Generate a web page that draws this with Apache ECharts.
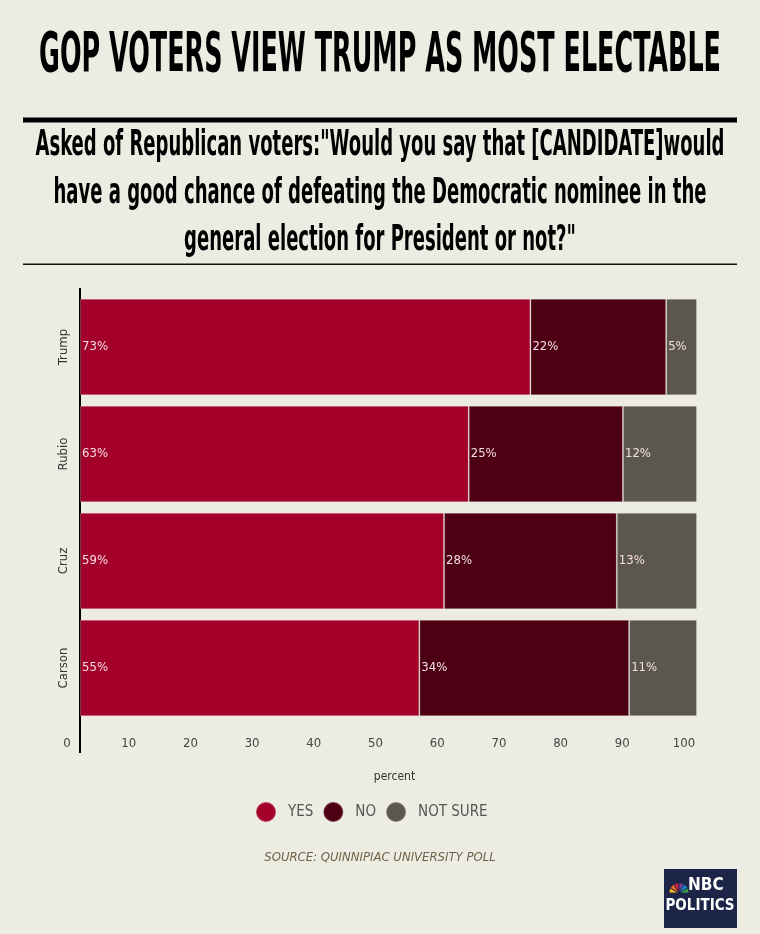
<!DOCTYPE html>
<html>
<head>
<meta charset="utf-8">
<script src="https://cdn.jsdelivr.net/npm/echarts@6/dist/echarts.min.js"></script>
<style>
html,body{margin:0;padding:0;background:#edece2;}
#chart{width:760px;height:934px;}
</style>
</head>
<body>
<div id="chart"></div>
<script>
// ---- data ----
const categories = ['Trump', 'Rubio', 'Cruz', 'Carson'];
const yesValues = [73, 63, 59, 55];
const noValues = [22, 25, 28, 34];
const notSureValues = [5, 12, 13, 11];
const seriesNames = ['YES', 'NO', 'NOT SURE'];
const titleText = 'GOP VOTERS VIEW TRUMP AS MOST ELECTABLE';
const subtitleLines = [
  'Asked of Republican voters:"Would you say that [CANDIDATE]would',
  'have a good chance of defeating the Democratic nominee in the',
  'general election for President or not?"'
];
const sourceText = 'SOURCE: QUINNIPIAC UNIVERSITY POLL';
const axisName = 'percent';

// ---- styles ----
const NARROW = '"Liberation Sans Narrow","DejaVu Sans Condensed","Roboto",sans-serif';
const colors = ['#a3002a', '#4d0014', '#5c574d'];
const bg = '#edece2';

function measure(text, font) {
  const c = document.createElement('canvas').getContext('2d');
  c.font = font;
  return c.measureText(text).width;
}
const titleFont = 'bold 55px ' + NARROW;
const titleScale = 682 / measure(titleText, titleFont);
const subFont = 'bold 35px ' + NARROW;
const subScale = 689 / measure(subtitleLines[0], subFont);

const chart = echarts.init(document.getElementById('chart'), null, {renderer: 'canvas'});

const labelStyle = {
  show: true,
  position: 'insideLeft',
  distance: 2,
  formatter: '{c}%',
  color: '#f5dde3',
  fontFamily: NARROW,
  fontSize: 13
};

function bar(name, data, color) {
  return {
    name: name,
    type: 'bar',
    stack: 'total',
    data: data,
    barCategoryGap: '10%',
    itemStyle: {color: color, borderColor: 'rgba(255,255,255,0.22)', borderWidth: 1},
    label: labelStyle,
    emphasis: {disabled: true}
  };
}

const graphics = [
  {type: 'text', x: 380, y: 57, scaleX: titleScale,
   style: {text: titleText, font: titleFont, fill: '#000', textAlign: 'center', textVerticalAlign: 'middle'}},
  {type: 'rect', shape: {x: 23, y: 117.5, width: 714, height: 5}, style: {fill: '#000'}},
  {type: 'rect', shape: {x: 23, y: 263.5, width: 714, height: 1.5}, style: {fill: '#111'}},
  {type: 'line', shape: {x1: 80, y1: 288, x2: 80, y2: 753}, style: {stroke: '#000', lineWidth: 2}},
  {type: 'text', x: 380, y: 858,
   style: {text: sourceText, font: 'italic 13px ' + NARROW, fill: '#6f614b', textAlign: 'center', textVerticalAlign: 'middle'}},
  {type: 'rect', shape: {x: 664, y: 869, width: 73, height: 59}, style: {fill: '#1c2548'}},
  {type: 'text', x: 688, y: 886,
   style: {text: 'NBC', font: 'bold 17px ' + NARROW, fill: '#fff', textAlign: 'left', textVerticalAlign: 'middle'}},
  {type: 'text', x: 700, y: 906,
   style: {text: 'POLITICS', font: 'bold 15px ' + NARROW, fill: '#fff', textAlign: 'center', textVerticalAlign: 'middle'}}
];
subtitleLines.forEach(function (t, i) {
  graphics.push({type: 'text', x: 380, y: 146 + i * 47.5, scaleX: subScale,
    style: {text: t, font: subFont, fill: '#000', textAlign: 'center', textVerticalAlign: 'middle'}});
});
// peacock
const peacock = ['#f7b51c', '#ee6b1f', '#d91e3c', '#7b3f98', '#1e88c9', '#3aa14b'];
peacock.forEach(function (c, i) {
  graphics.push({type: 'sector',
    shape: {cx: 679, cy: 893, r: 10, r0: 2, startAngle: Math.PI + i * Math.PI / 6, endAngle: Math.PI + (i + 1) * Math.PI / 6},
    style: {fill: c, stroke: '#1c2548', lineWidth: 0.8}});
});

chart.setOption({
  backgroundColor: bg,
  animation: false,
  color: colors,
  grid: {left: 80, right: 63, top: 293.5, bottom: 212.5, containLabel: false},
  xAxis: {
    type: 'value',
    min: 0, max: 100, interval: 10,
    name: axisName,
    nameLocation: 'middle',
    nameGap: 49,
    nameTextStyle: {color: '#333', fontFamily: NARROW, fontSize: 12, padding: [0, 0, 0, 12]},
    axisLine: {show: false},
    axisTick: {show: false},
    splitLine: {show: false},
    axisLabel: {color: '#444', fontFamily: NARROW, fontSize: 13, margin: 16, padding: [0, 26, 0, 0]}
  },
  yAxis: {
    type: 'category',
    data: categories,
    inverse: true,
    axisLine: {show: false},
    axisTick: {show: false},
    axisLabel: {rotate: 90, color: '#333', fontFamily: NARROW, fontSize: 13, margin: 10}
  },
  legend: {
    data: seriesNames,
    top: 801,
    left: 255,
    padding: 0,
    icon: 'circle',
    itemWidth: 20,
    itemHeight: 20,
    itemGap: 9,
    textStyle: {color: '#555', fontFamily: NARROW, fontSize: 15, padding: [0, 0, 0, 7]},
    selectedMode: false
  },
  series: [
    bar(seriesNames[0], yesValues, colors[0]),
    bar(seriesNames[1], noValues, colors[1]),
    bar(seriesNames[2], notSureValues, colors[2])
  ],
  graphic: graphics
});
</script>
</body>
</html>
